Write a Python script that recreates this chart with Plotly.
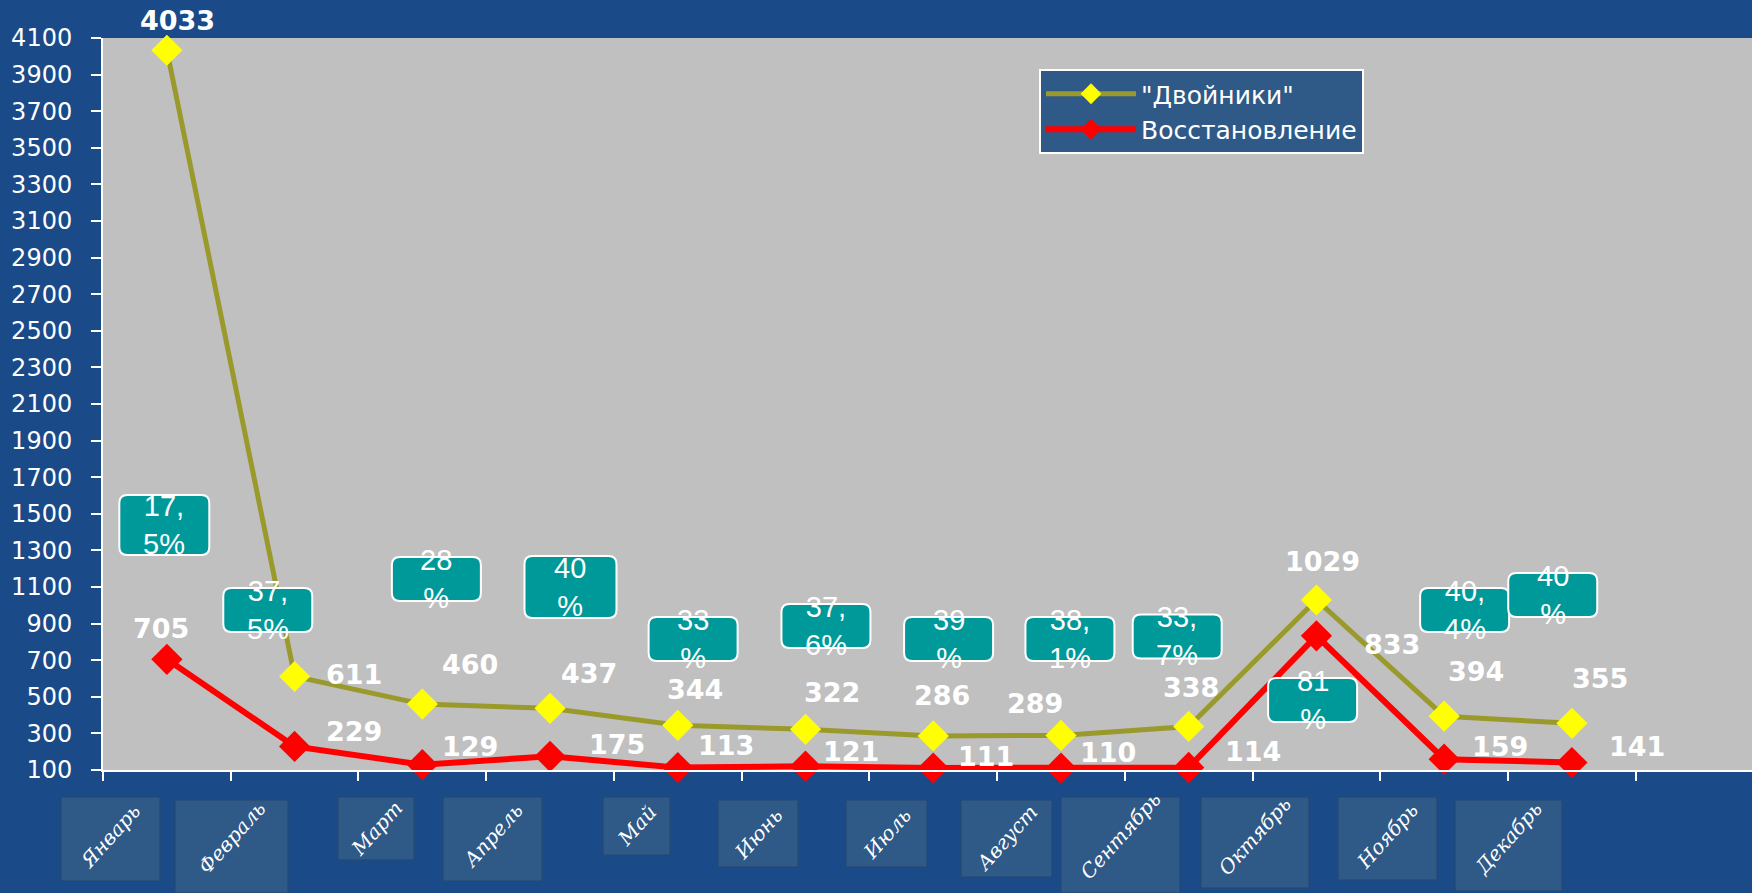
import plotly.graph_objects as go

# months on the x axis
months = ["Январь", "Февраль", "Март", "Апрель", "Май", "Июнь",
          "Июль", "Август", "Сентябрь", "Октябрь", "Ноябрь", "Декабрь"]

# series values
dvoiniki = [4033, 611, 460, 437, 344, 322, 286, 289, 338, 1029, 394, 355]
vosstanovlenie = [705, 229, 129, 175, 113, 121, 111, 110, 114, 833, 159, 141]

# share of restored, as written in the teal boxes
pct_labels = ["17,<br>5%", "37,<br>5%", "28<br>%", "40<br>%", "33<br>%", "37,<br>6%",
              "39<br>%", "38,<br>1%", "33,<br>7%", "81<br>%", "40,<br>4%", "40<br>%"]

y_ticks = list(range(100, 4101, 200))

# ---- placement (pixels / axis units), not data ----
W, H = 1752, 893
L, R, T, B = 103, 0, 38, 123
PW, PH = W - L - R, H - T - B

dv_shift = [(11, 30), (59, 2), (48, 40), (39, 35), (17, 36), (26, 37),
            (9, 40), (-26, 32), (2, 39), (6, 38), (32, 45), (28, 45)]
vs_shift = [(-6, 31), (59, 15), (48, 18), (67, 12), (48, 22), (45, 15),
            (53, 11), (47, 16), (64, 16), (76, -9), (56, 13), (65, 16)]
pct_pos = [(-0.02, 1439), (0.79, 974), (2.11, 1144), (3.16, 1100), (4.12, 816), (5.16, 887),
           (6.12, 816), (7.07, 816), (7.91, 830), (8.97, 482), (10.16, 974), (10.85, 1056)]
pct_size = [(90, 60), (89, 44), (89, 44), (92, 62), (89, 44), (89, 44),
            (89, 44), (89, 44), (89, 44), (89, 44), (89, 44), (89, 44)]
# month label boxes in page pixels: x0, x1, y0, y1
month_boxes = [(61, 160, 797, 881), (175, 288, 800, 900), (338, 414, 797, 860),
               (443, 542, 797, 881), (603, 670, 797, 855), (718, 798, 800, 867),
               (846, 927, 800, 867), (961, 1052, 800, 877), (1061, 1180, 797, 900),
               (1201, 1309, 797, 888), (1338, 1437, 797, 880), (1455, 1562, 800, 891)]

BG = "#1a4a88"
TEAL = "#009999"
BOXBLUE = "#2f5987"


def px(x):
    return (x - L) / PW


def py(y):
    return (H - B - y) / PH


def rounded(w, h, r):
    a, b = w / 2, h / 2
    return (f"M{-a + r},{-b} L{a - r},{-b} Q{a},{-b} {a},{-b + r} L{a},{b - r} "
            f"Q{a},{b} {a - r},{b} L{-a + r},{b} Q{-a},{b} {-a},{b - r} "
            f"L{-a},{-b + r} Q{-a},{-b} {-a + r},{-b} Z")


fig = go.Figure()
fig.add_trace(go.Scatter(
    x=months, y=dvoiniki, name='"Двойники"', mode="lines+markers",
    line=dict(color="#9a9a2c", width=5),
    marker=dict(symbol="diamond", size=24, color="#ffff00"),
    cliponaxis=False))
fig.add_trace(go.Scatter(
    x=months, y=vosstanovlenie, name="Восстановление", mode="lines+markers",
    line=dict(color="#ff0000", width=6),
    marker=dict(symbol="diamond", size=24, color="#ff0000"),
    cliponaxis=False))

shapes = []
annotations = []

# teal percentage boxes
for lab, (bx, by), (bw, bh) in zip(pct_labels, pct_pos, pct_size):
    shapes.append(dict(type="path", xref="x", yref="y", xsizemode="pixel", ysizemode="pixel",
                       xanchor=bx, yanchor=by, path=rounded(bw, bh, 8),
                       fillcolor=TEAL, line=dict(color="white", width=2), layer="above"))
    annotations.append(dict(x=bx, y=by, xref="x", yref="y", text=lab, showarrow=False,
                            xanchor="center", yanchor="middle",
                            font=dict(family="Liberation Sans, Arial", size=29, color="white")))

# value labels
lab_font = dict(family="DejaVu Sans", size=27, color="white", weight="bold")
for i, m in enumerate(months):
    annotations.append(dict(x=i, y=dvoiniki[i], xref="x", yref="y", text=str(dvoiniki[i]),
                            showarrow=False, xshift=dv_shift[i][0], yshift=dv_shift[i][1],
                            xanchor="center", yanchor="middle", font=lab_font))
    annotations.append(dict(x=i, y=vosstanovlenie[i], xref="x", yref="y", text=str(vosstanovlenie[i]),
                            showarrow=False, xshift=vs_shift[i][0], yshift=vs_shift[i][1],
                            xanchor="center", yanchor="middle", font=lab_font))

# month label boxes under the axis
for m, (x0, x1, y0, y1) in zip(months, month_boxes):
    shapes.append(dict(type="rect", xref="paper", yref="paper",
                       x0=px(x0), x1=px(x1), y0=py(min(y1, H)), y1=py(y0),
                       fillcolor=BOXBLUE, line=dict(color="#24466f", width=1), layer="above"))
    annotations.append(dict(x=px((x0 + x1) / 2), y=py((y0 + min(y1, 876)) / 2),
                            xref="paper", yref="paper",
                            text=m, showarrow=False, textangle=-48,
                            xanchor="center", yanchor="middle",
                            font=dict(family="DejaVu Serif", size=20, color="white", style="italic")))

fig.update_layout(
    width=W, height=H,
    margin=dict(l=L, r=R, t=T, b=B),
    paper_bgcolor=BG,
    plot_bgcolor="#c0c0c0",
    shapes=shapes,
    annotations=annotations,
    showlegend=True,
    legend=dict(x=px(1039), y=py(69), xanchor="left", yanchor="top",
                bgcolor=BOXBLUE, bordercolor="white", borderwidth=2,
                font=dict(family="DejaVu Sans", size=25, color="white"),
                itemwidth=90, tracegroupgap=6),
    xaxis=dict(type="category", range=[-0.5, 12.41], showticklabels=False,
               ticks="outside", tickson="boundaries", ticklen=9, tickcolor="white", tickwidth=2,
               showline=True, linecolor="white", linewidth=2, showgrid=False, zeroline=False),
    yaxis=dict(range=[100, 4100], tickvals=y_ticks, ticks="outside", ticklen=10,
               tickcolor="white", tickwidth=2, showline=True, linecolor="white", linewidth=2,
               showgrid=False, zeroline=False, ticklabelstandoff=14,
               tickfont=dict(family="DejaVu Sans", size=24, color="white")),
)

fig.write_html("out.html", config={"displayModeBar": False},
               post_script="document.body.style.margin='0';document.body.style.overflow='hidden';")
